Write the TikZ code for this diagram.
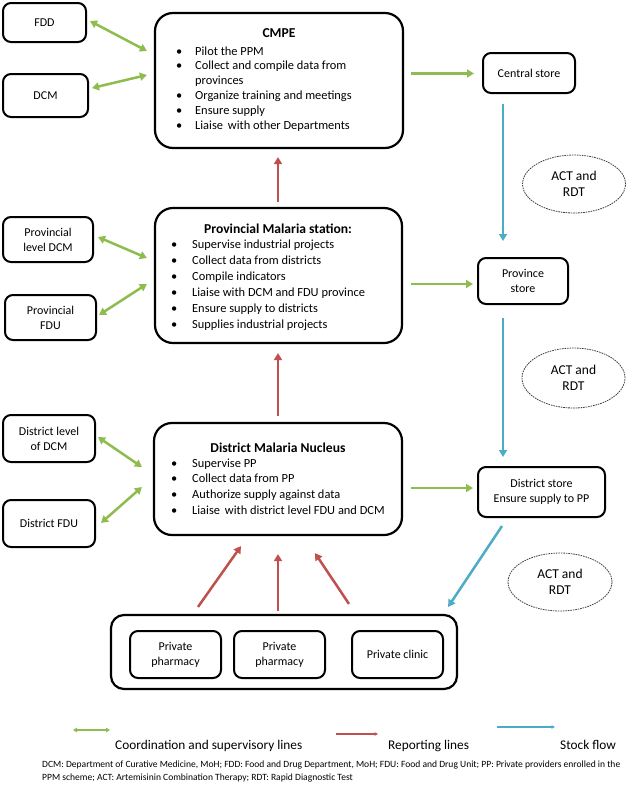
\documentclass[tikz,border=0pt]{standalone}
\usepackage{fontspec}
\setmainfont{Carlito}
\usetikzlibrary{arrows.meta,calc,shapes.geometric}
\definecolor{cgreen}{HTML}{8FBC4E}
\definecolor{cred}{HTML}{C0504D}
\definecolor{cblue}{HTML}{4BACC6}
\newcommand{\mybul}{\makebox[19pt][l]{\textbullet}}
\newcommand{\mybulb}{\makebox[21pt][l]{\textbullet}}
\begin{document}
\begin{tikzpicture}[x=1pt,y=-1pt,
  font=\fontsize{12}{15}\selectfont,
  box/.style={draw, line width=2pt, rounded corners=8pt, align=center, inner sep=0pt},
  bigbox/.style={draw, line width=2.2pt, rounded corners=18pt, inner sep=0pt},
  listtext/.style={anchor=base west, inner sep=0pt},
  titletext/.style={anchor=base, inner sep=0pt, font=\fontsize{13.6}{15}\selectfont\bfseries},
  oval/.style={draw=black!75, ellipse, line width=0.8pt, dash pattern=on 1.6pt off 0.9pt, inner sep=0pt, align=center, font=\fontsize{13.5}{16}\selectfont},
  tipg/.tip={Triangle[length=7pt,width=8pt]},
  garrow/.style={draw=cgreen, line width=2.5pt, tipg-tipg},
  garrowone/.style={draw=cgreen, line width=2.5pt, -tipg},
  rarrow/.style={draw=cred, line width=2.5pt, -{Triangle[length=7pt,width=8pt]}},
  barrow/.style={draw=cblue, line width=2.5pt, -{Triangle[length=7pt,width=8pt]}},
  legtext/.style={anchor=base west, inner sep=0pt, font=\fontsize{13.3}{16}\selectfont}
]
\useasboundingbox (0,0) rectangle (634,796);
\fill[white] (0,0) rectangle (634,796);

% ---------- left boxes ----------
\node[box, minimum width=83pt, minimum height=39pt] (fdd) at (44.5,22.5) {FDD};
\node[box, minimum width=85pt, minimum height=43pt] (dcm) at (45.5,95.5) {DCM};
\node[box, minimum width=90pt, minimum height=45pt] (pdcm) at (48,239.5) {Provincial\\level DCM};
\node[box, minimum width=91pt, minimum height=45pt] (pfdu) at (50.5,317.5) {Provincial\\FDU};
\node[box, minimum width=92pt, minimum height=47pt] (ddcm) at (49,438.5) {District level\\of DCM};
\node[box, minimum width=92pt, minimum height=47pt] (dfdu) at (49,523.5) {District FDU};

% ---------- central boxes ----------
\node[bigbox, minimum width=248pt, minimum height=135pt] (cmpe) at (279,80.5) {};
\node[titletext] (cmpet) at (279,37) {CMPE};
\node[listtext, font=\fontsize{12.4}{14.8}\selectfont] (cmpel) at (176,55) {\begin{tabular}[t]{@{}l@{}}
\mybul Pilot the PPM\\
\mybul Collect and compile data from\\
\hspace*{19pt}provinces\\
\mybul Organize training and meetings\\
\mybul Ensure supply\\
\mybul Liaise\, with other Departments
\end{tabular}};

\node[bigbox, minimum width=247pt, minimum height=135pt] (pms) at (278.5,275.5) {};
\node[titletext] (pmst) at (278,233) {Provincial Malaria station:};
\node[listtext, font=\fontsize{12.4}{16}\selectfont] (pmsl) at (171,248) {\begin{tabular}[t]{@{}l@{}}
\mybulb Supervise industrial projects\\
\mybulb Collect data from districts\\
\mybulb Compile indicators\\
\mybulb Liaise with DCM and FDU province\\
\mybulb Ensure supply to districts\\
\mybulb Supplies industrial projects
\end{tabular}};

\node[bigbox, minimum width=248pt, minimum height=112pt] (dmn) at (278,479) {};
\node[titletext] (dmnt) at (278,452) {District Malaria Nucleus};
\node[listtext, font=\fontsize{12.4}{15.7}\selectfont] (dmnl) at (171,467) {\begin{tabular}[t]{@{}l@{}}
\mybulb Supervise PP\\
\mybulb Collect data from PP\\
\mybulb Authorize supply against data\\
\mybulb Liaise\, with district level FDU and DCM
\end{tabular}};

% ---------- stores ----------
\node[box, minimum width=92pt, minimum height=40pt] (cstore) at (529,73) {Central store};
\node[box, minimum width=90pt, minimum height=46pt] (pstore) at (523,281) {Province\\store};
\node[box, minimum width=127pt, minimum height=50pt] (dstore) at (541.5,492) {District store\\Ensure supply to PP};

% ---------- ovals ----------
\node[oval, minimum width=103pt, minimum height=58pt] (e1) at (574,184) {ACT and\\RDT};
\node[oval, minimum width=103pt, minimum height=60pt] (e2) at (573.5,378) {ACT and\\RDT};
\node[oval, minimum width=104pt, minimum height=58pt] (e3) at (560,582) {ACT and\\RDT};

% ---------- private providers ----------
\node[box, rounded corners=13pt, line width=2.2pt, minimum width=346pt, minimum height=74pt] (outer) at (284,652) {};
\node[box, minimum width=91pt, minimum height=47pt] (pp1) at (175.5,654.5) {Private\\pharmacy};
\node[box, minimum width=91pt, minimum height=47pt] (pp2) at (279.5,654.5) {Private\\pharmacy};
\node[box, minimum width=91pt, minimum height=47pt] (pc) at (397.5,654.5) {Private clinic};

% ---------- green coordination arrows ----------
\draw[garrow] ($(fdd.east)+(3,-1.5)$) -- ($(cmpe.west)+(-7,-29.5)$);
\draw[garrow] ($(dcm.east)+(3,-7.5)$) -- ($(cmpe.west)+(-7,-5.5)$);
\draw[garrow] ($(pdcm.east)+(4,-2.5)$) -- ($(pms.west)+(-7,-17.5)$);
\draw[garrow] ($(pms.west)+(-7,8.5)$) -- ($(pfdu.east)+(2,-2.5)$);
\draw[garrow] ($(ddcm.east)+(2,-1.5)$) -- ($(dmn.west)+(-11,-12)$);
\draw[garrow] ($(dmn.west)+(-11,8)$) -- ($(dfdu.east)+(5,-0.5)$);
\draw[garrowone] ($(cmpe.east)+(7,-7)$) -- ($(cstore.west)+(-8,0.5)$);
\draw[garrowone] ($(pms.east)+(8,8.5)$) -- ($(pstore.west)+(-4,3)$);
\draw[garrowone] ($(dmn.east)+(8,9)$) -- ($(dstore.west)+(-4,-4)$);

% ---------- blue stock flow ----------
\draw[barrow] ($(cstore.south)+(-26,10)$) -- ($(pstore.north)+(-20,-16)$);
\draw[barrow] ($(pstore.south)+(-20,13)$) -- ($(dstore.north)+(-38.5,-9)$);
\draw[barrow] ($(dstore.south)+(-39.5,8)$) -- ($(outer.north east)+(-10,-7)$);

% ---------- red reporting ----------
\draw[rarrow] ($(pms.north)+(-0.5,-5)$) -- ($(cmpe.south)+(-1,8)$);
\draw[rarrow] ($(dmn.north)+(0,-6)$) -- ($(pms.south)+(-0.5,9)$);
\draw[rarrow] ($(outer.north)+(-86,-7)$) -- ($(dmn.south)+(-37,10)$);
\draw[rarrow] ($(outer.north)+(-6,-3)$) -- ($(dmn.south)+(0,18)$);
\draw[rarrow] ($(outer.north)+(65,-10)$) -- ($(dmn.south)+(37,17)$);

% ---------- legend ----------
\coordinate (lg1) at (73,730);
\coordinate (lg2) at (110,730);
\coordinate (lr1) at (336,734);
\coordinate (lr2) at (378,734);
\coordinate (lb1) at (497,727);
\coordinate (lb2) at (555,727);
\draw[draw=cgreen, line width=1.6pt, {Triangle[length=4pt,width=4.5pt]}-{Triangle[length=4pt,width=4.5pt]}] (lg1) -- (lg2);
\draw[draw=cred, line width=1.3pt, -{Triangle[length=3.5pt,width=3.5pt]}] (lr1) -- (lr2);
\draw[draw=cblue, line width=1.3pt, -{Triangle[length=3.5pt,width=3.5pt]}] (lb1) -- (lb2);
\node[legtext] (lgt) at (115,749) {Coordination and supervisory lines};
\node[legtext] (lrt) at (388,749) {Reporting lines};
\node[legtext] (lbt) at (560,749) {Stock flow};

% ---------- footnote ----------
\node[anchor=base west, inner sep=0pt, align=left, font=\fontsize{9.55}{13}\selectfont] (foot) at (42,780) {DCM: Department of Curative Medicine, MoH; FDD: Food and Drug Department, MoH; FDU: Food and Drug Unit; PP: Private providers enrolled in the\\PPM scheme; ACT: Artemisinin Combination Therapy; RDT: Rapid Diagnostic Test};
\end{tikzpicture}
\end{document}
